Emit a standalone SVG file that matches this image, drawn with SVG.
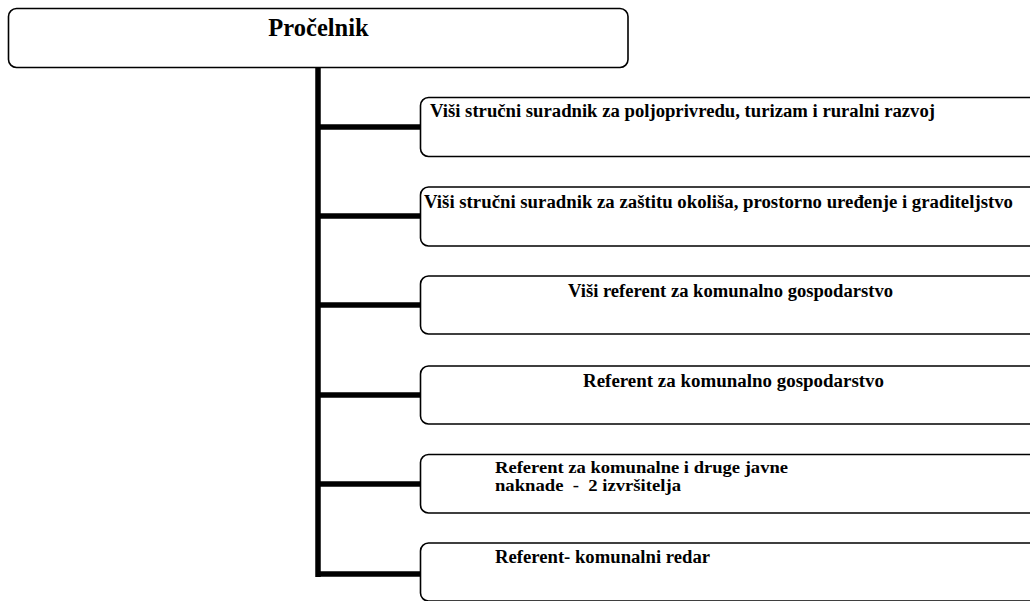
<svg xmlns="http://www.w3.org/2000/svg" width="1030" height="601" viewBox="0 0 1030 601">
<style>
.box{fill:#fff;stroke:#000;stroke-width:1.6}
.con{stroke:#000;stroke-width:5.5;fill:none}
.t{font-family:"Liberation Serif","Times New Roman",serif;font-weight:bold;font-size:18.7px;fill:#000;white-space:pre}
.title{font-size:24.5px}
.two{font-size:16.5px}
</style>
<rect width="1030" height="601" fill="#fff"/>
<g id="connectors">
<line class="con" x1="318" y1="67" x2="318" y2="577"/>
<line class="con" x1="318" y1="127" x2="421" y2="127"/>
<line class="con" x1="318" y1="216" x2="421" y2="216"/>
<line class="con" x1="318" y1="305" x2="421" y2="305"/>
<line class="con" x1="318" y1="395" x2="421" y2="395"/>
<line class="con" x1="318" y1="484" x2="421" y2="484"/>
<line class="con" x1="318" y1="574" x2="421" y2="574"/>
</g>
<g id="n0">
<rect class="box" x="8.5" y="8.5" width="619.5" height="59" rx="8"/>
<text class="t title" x="318.5" y="36" text-anchor="middle">Pročelnik</text>
</g>
<g id="n1">
<rect class="box" x="420.5" y="97.5" width="640" height="59" rx="8"/>
<text class="t" x="430" y="117" textLength="505" lengthAdjust="spacingAndGlyphs">Viši stručni suradnik za poljoprivredu, turizam i ruralni razvoj</text>
</g>
<g id="n2">
<rect class="box" x="420.5" y="187" width="640" height="59" rx="8"/>
<text class="t" x="424" y="208" textLength="589" lengthAdjust="spacingAndGlyphs">Viši stručni suradnik za zaštitu okoliša, prostorno uređenje i graditeljstvo</text>
</g>
<g id="n3">
<rect class="box" x="420.5" y="276" width="640" height="58" rx="8"/>
<text class="t" x="568" y="297" textLength="325" lengthAdjust="spacingAndGlyphs">Viši referent za komunalno gospodarstvo</text>
</g>
<g id="n4">
<rect class="box" x="420.5" y="366" width="640" height="58" rx="8"/>
<text class="t" x="583" y="387" textLength="301" lengthAdjust="spacingAndGlyphs">Referent za komunalno gospodarstvo</text>
</g>
<g id="n5">
<rect class="box" x="420.5" y="454.5" width="640" height="58.5" rx="8"/>
<text class="t two" x="495" y="473" textLength="293" lengthAdjust="spacingAndGlyphs">Referent za komunalne i druge javne</text>
<text class="t two" x="495" y="491" textLength="186" lengthAdjust="spacingAndGlyphs">naknade  -  2 izvršitelja</text>
</g>
<g id="n6">
<rect class="box" x="420.5" y="543" width="640" height="58" rx="8"/>
<text class="t" x="495" y="563" textLength="215" lengthAdjust="spacingAndGlyphs">Referent- komunalni redar</text>
</g>
</svg>
